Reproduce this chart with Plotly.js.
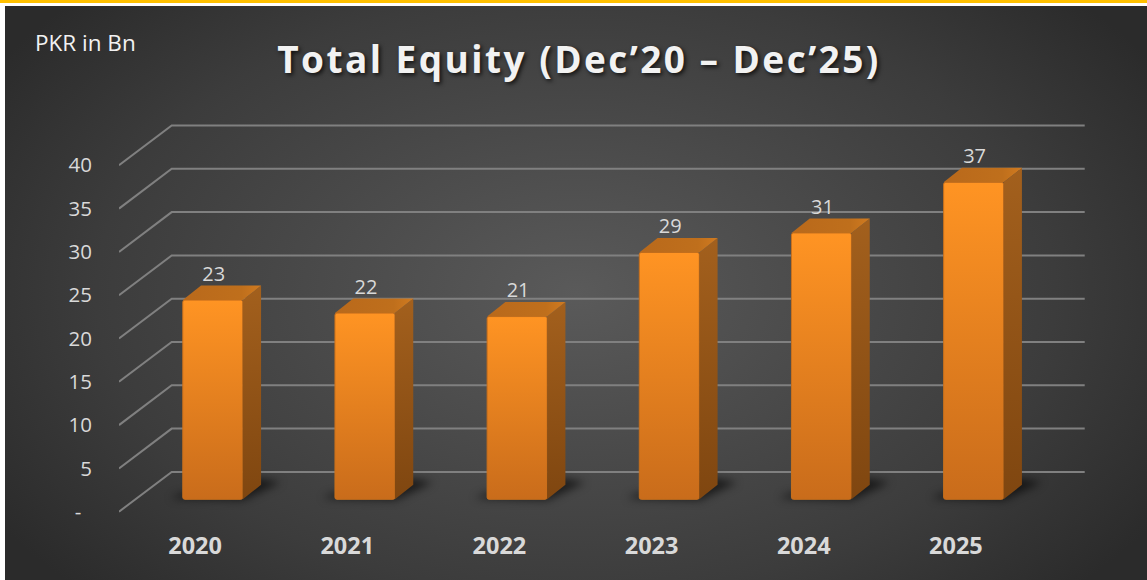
<!DOCTYPE html>
<html>
<head>
<meta charset="utf-8">
<script src="https://cdn.plot.ly/plotly-3.0.1.min.js"></script>
<style>
html,body{margin:0;padding:0;width:1147px;height:580px;overflow:hidden;background:#fff}
#topbar{position:absolute;left:0;top:0;width:1147px;height:3px;background:#ffc000}
#panel{position:absolute;left:5px;top:6px;right:0;bottom:0;background:radial-gradient(ellipse 60% 75% at 50% 50%,#5a5a5a 0%,#3c3c3c 70%,#2b2b2b 100%)}
#chart{position:absolute;left:0;top:0;width:1147px;height:580px}
.gtitle{letter-spacing:2.45px}
</style>
</head>
<body>
<div id="topbar"></div>
<div id="panel"></div>
<div id="chart"></div>
<script>
const categories = ["2020","2021","2022","2023","2024","2025"];
const equity = [23.0, 21.5, 21.1, 28.5, 30.75, 36.6];
const barLabels = ["23","22","21","29","31","37"];
const yTickVals = [0,5,10,15,20,25,30,35,40];
const yTickText = ["-\u00A0\u00A0","5","10","15","20","25","30","35","40"];

// pixel-to-axis scale of the oblique projection
const PX = 1/152.2, PY = 1/8.66;
const wallDX = 52.7*PX, wallDY = 39.8*PY;
const barOffX = 17.7*PX, barBaseY = 12.4*PY, barW = 60*PX;
const depthX = 18.3*PX, depthY = 14.5*PY;
const xs = categories.map((_,i)=>i);

const grid = yTickVals.map(v=>({
  type:'path', xref:'x', yref:'y', layer:'below',
  path:`M-0.5,${v} L${-0.5+wallDX},${v+wallDY} L${5.5+wallDX},${v+wallDY}`,
  line:{color:'#808080',width:2}
}));
const shadows = xs.map(i=>{
  const l=i+barOffX-barW/2, r=l+barW, b=barBaseY;
  const pts=[[l-12*PX,b+1*PY],[r,b-1*PY],[r+38*PX,b+17*PY],[r+16*PX,b+21*PY],[l-4*PX,b+5*PY]];
  return {type:'path',xref:'x',yref:'y',layer:'below',
    path:'M'+pts.map(p=>p.join(',')).join(' L')+' Z',
    fillcolor:'rgba(0,0,0,0.6)',line:{width:0}};
});

const bars = {
  type:'bar', x:xs.map(i=>i+barOffX), y:equity, base:barBaseY, width:barW,
  marker:{color:'#e8831f',cornerradius:2,line:{color:'#c9701c',width:1}},
  hoverinfo:'skip', showlegend:false
};
const sides = xs.map((i)=>{
  const r=i+barOffX+barW/2, t=equity[i]+barBaseY, b=barBaseY;
  return {type:'scatter',mode:'lines',line:{width:0},hoverinfo:'skip',showlegend:false,fill:'toself',
    x:[r,r+depthX,r+depthX,r,r], y:[b,b+depthY,t+depthY,t,b],
    fillgradient:{type:'vertical',colorscale:[[0,'#7f4610'],[1,'#a3601d']]}};
});
const tops = xs.map((i)=>{
  const l=i+barOffX-barW/2, r=l+barW, t=equity[i]+barBaseY;
  return {type:'scatter',mode:'lines',line:{width:0},hoverinfo:'skip',showlegend:false,fill:'toself',
    x:[l,r,r+depthX,l+depthX,l], y:[t,t,t+depthY,t+depthY,t],
    fillgradient:{type:'horizontal',colorscale:[[0,'#b9691b'],[0.75,'#bf6f1c'],[1,'#d17b20']]}};
});
const labels = {
  type:'scatter',mode:'text',hoverinfo:'skip',showlegend:false,
  x:xs.map(i=>i+barOffX+1*PX), y:equity.map(v=>v+barBaseY+depthY),
  text:barLabels, textposition:'top center',
  textfont:{family:'Open Sans',size:20,color:'#d9d9d9'}
};

const layout = {
  width:1147,height:580,
  margin:{l:119,r:47,t:100,b:60,pad:0},
  paper_bgcolor:'rgba(0,0,0,0)',plot_bgcolor:'rgba(0,0,0,0)',
  showlegend:false,
  title:{text:'Total Equity (Dec’20 – Dec’25)',xref:'container',yref:'container',x:579/1147,y:(580-60)/580,
    xanchor:'center',yanchor:'middle',
    font:{family:'Open Sans',size:37,weight:700,color:'#f2f2f2',shadow:'2px 2px 4px rgba(0,0,0,0.75)'}},
  xaxis:{range:[-0.5,5.5+68/152.2],tickvals:xs,ticktext:categories,showgrid:false,zeroline:false,showline:false,
    ticks:'',ticklabelstandoff:9,tickfont:{family:'Open Sans',size:23.5,weight:700,color:'#d9d9d9'}},
  yaxis:{range:[-8.3/8.66,411.7/8.66],tickvals:yTickVals,ticktext:yTickText,showgrid:false,zeroline:false,showline:false,
    ticks:'',ticklabelstandoff:26,tickfont:{family:'Open Sans',size:20.5,color:'#d9d9d9'}},
  shapes:grid.concat(shadows),
  annotations:[{text:'PKR in Bn',xref:'paper',yref:'paper',x:(32.5-119)/981,y:(520-42)/420,
    xanchor:'left',yanchor:'middle',showarrow:false,font:{family:'Open Sans',size:22.5,color:'#f2f2f2'}}]
};

const gd=document.getElementById('chart');
Plotly.newPlot(gd,[bars].concat(sides,tops,[labels]),layout,{displayModeBar:false,staticPlot:true}).then(()=>{
  // vertical shading on bar fronts and blur on floor shadows
  const svg=gd.querySelector('.main-svg');
  const ns='http://www.w3.org/2000/svg';
  const g=document.createElementNS(ns,'linearGradient');
  g.setAttribute('id','barFront');g.setAttribute('x1','0');g.setAttribute('y1','0');g.setAttribute('x2','0');g.setAttribute('y2','1');
  [['0','#ff9423'],['1','#c96c1b']].forEach(s=>{
    const st=document.createElementNS(ns,'stop');st.setAttribute('offset',s[0]);st.setAttribute('stop-color',s[1]);g.appendChild(st);
  });
  svg.querySelector('defs').appendChild(g);
  gd.querySelectorAll('.bars .point path').forEach(p=>{p.style.fill='url(#barFront)';});
  gd.querySelectorAll('.shapelayer path').forEach((p,i)=>{
    if(i>=grid.length) p.style.filter='blur(4px)';
  });
});
</script>
</body>
</html>
